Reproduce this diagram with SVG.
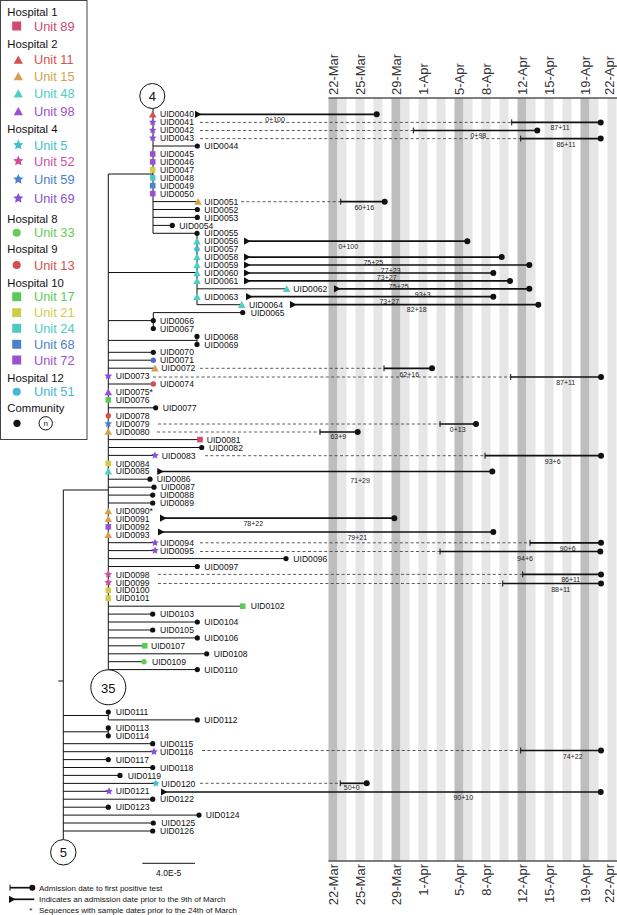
<svg xmlns="http://www.w3.org/2000/svg" width="617" height="915" viewBox="0 0 617 915">
<style>
text{font-family:"Liberation Sans",Arial,Helvetica,sans-serif}
.l{font-size:8.6px;fill:#111}
.n{font-size:7px;fill:#222;text-anchor:middle}
.h{font-size:11.3px;fill:#111}
.u{font-size:12.8px}
.d{font-size:13px;fill:#333}
.br{stroke:#111;stroke-width:1;fill:none}
.tl{stroke:#111;stroke-width:1.7;fill:none}
.tk{stroke:#111;stroke-width:1;fill:none}
.da{stroke:#333;stroke-width:0.8;stroke-dasharray:3 2.4;fill:none}
.cc{fill:#fff;stroke:#111;stroke-width:1}
.ct{font-size:13px;text-anchor:middle;fill:#111}
.sd{fill:#bebebe}
.sl{fill:#e6e6e6}
.ax{stroke:#555;stroke-width:1.5}
.ft{font-size:8px;fill:#111}
</style>
<defs>
<polygon id="tri" points="0,-3.6 3.8,3.2 -3.8,3.2"/>
<polygon id="star" points="0,-4 1.15,-1.57 3.8,-1.23 1.83,0.6 2.38,3.23 0,1.96 -2.38,3.23 -1.83,0.6 -3.8,-1.23 -1.15,-1.57"/>
<rect id="sq" x="-2.8" y="-2.8" width="5.6" height="5.6"/>
<circle id="ci" r="2.7"/>
<circle id="dot" r="2.6" fill="#111"/>
<circle id="ed" r="3" fill="#111"/>
<polygon id="arr" points="0,-3.6 6.5,0 0,3.6" fill="#111"/>
</defs>
<rect width="617" height="915" fill="#fff"/>

<g id="timeline-axis">
<rect class="sd" x="328.5" y="98" width="9" height="763"/>
<rect class="sd" x="391.5" y="98" width="9" height="763"/>
<rect class="sd" x="454.5" y="98" width="9" height="763"/>
<rect class="sd" x="517.5" y="98" width="9" height="763"/>
<rect class="sd" x="580.5" y="98" width="9" height="763"/>
<rect class="sl" x="337.5" y="98" width="9" height="763"/>
<rect class="sl" x="355.5" y="98" width="9" height="763"/>
<rect class="sl" x="373.5" y="98" width="9" height="763"/>
<rect class="sl" x="400.5" y="98" width="9" height="763"/>
<rect class="sl" x="418.5" y="98" width="9" height="763"/>
<rect class="sl" x="436.5" y="98" width="9" height="763"/>
<rect class="sl" x="463.5" y="98" width="9" height="763"/>
<rect class="sl" x="481.5" y="98" width="9" height="763"/>
<rect class="sl" x="499.5" y="98" width="9" height="763"/>
<rect class="sl" x="526.5" y="98" width="9" height="763"/>
<rect class="sl" x="544.5" y="98" width="9" height="763"/>
<rect class="sl" x="562.5" y="98" width="9" height="763"/>
<rect class="sl" x="589.5" y="98" width="9" height="763"/>
<rect class="sl" x="607.5" y="98" width="9" height="763"/>
<path class="ax" d="M328.5 98H617M328.5 861H617"/>
<text class="d" transform="translate(337.5,95) rotate(-90)">22-Mar</text>
<text class="d" transform="translate(364.5,95) rotate(-90)">25-Mar</text>
<text class="d" transform="translate(400.5,95) rotate(-90)">29-Mar</text>
<text class="d" transform="translate(427.5,95) rotate(-90)">1-Apr</text>
<text class="d" transform="translate(463.5,95) rotate(-90)">5-Apr</text>
<text class="d" transform="translate(490.5,95) rotate(-90)">8-Apr</text>
<text class="d" transform="translate(526.5,95) rotate(-90)">12-Apr</text>
<text class="d" transform="translate(553.5,95) rotate(-90)">15-Apr</text>
<text class="d" transform="translate(589.5,95) rotate(-90)">19-Apr</text>
<text class="d" transform="translate(614.3,95) rotate(-90)">22-Apr</text>
<g text-anchor="end">
<text class="d" transform="translate(337.5,864) rotate(-90)">22-Mar</text>
<text class="d" transform="translate(364.5,864) rotate(-90)">25-Mar</text>
<text class="d" transform="translate(400.5,864) rotate(-90)">29-Mar</text>
<text class="d" transform="translate(427.5,864) rotate(-90)">1-Apr</text>
<text class="d" transform="translate(463.5,864) rotate(-90)">5-Apr</text>
<text class="d" transform="translate(490.5,864) rotate(-90)">8-Apr</text>
<text class="d" transform="translate(526.5,864) rotate(-90)">12-Apr</text>
<text class="d" transform="translate(553.5,864) rotate(-90)">15-Apr</text>
<text class="d" transform="translate(589.5,864) rotate(-90)">19-Apr</text>
<text class="d" transform="translate(614.3,864) rotate(-90)">22-Apr</text>
</g>
</g>

<g id="legend">
<rect x="0.5" y="0.5" width="86.5" height="439" fill="#fff" stroke="#444"/>
<text class="h" x="7.3" y="15.7">Hospital 1</text>
<use href="#sq" transform="translate(16.7,26) scale(1.6)" fill="#cf4a6e"/><text class="u" x="34" y="30.5" fill="#cf4a6e">Unit 89</text>
<text class="h" x="7.3" y="47.7">Hospital 2</text>
<use href="#tri" transform="translate(18.3,59.8) scale(1.22)" fill="#d8504c"/><text class="u" x="34" y="63.8" fill="#d8504c">Unit 11</text>
<use href="#tri" transform="translate(18.3,76.3) scale(1.22)" fill="#d4a24c"/><text class="u" x="34" y="80.5" fill="#d4a24c">Unit 15</text>
<use href="#tri" transform="translate(18.3,93.6) scale(1.22)" fill="#4ccfc4"/><text class="u" x="34" y="97.8" fill="#4ccfc4">Unit 48</text>
<use href="#tri" transform="translate(18.3,111.3) scale(1.22)" fill="#9b50d2"/><text class="u" x="34" y="115.5" fill="#9b50d2">Unit 98</text>
<text class="h" x="7.3" y="133.3">Hospital 4</text>
<use href="#star" transform="translate(18.3,145) scale(1.35)" fill="#3fbfcf"/><text class="u" x="34" y="149.5" fill="#3fbfcf">Unit 5</text>
<use href="#star" transform="translate(18.3,161) scale(1.35)" fill="#d24ca0"/><text class="u" x="34" y="165.5" fill="#d24ca0">Unit 52</text>
<use href="#star" transform="translate(18.3,179.3) scale(1.35)" fill="#4a80cf"/><text class="u" x="34" y="183.8" fill="#4a80cf">Unit 59</text>
<use href="#star" transform="translate(18.3,198.3) scale(1.35)" fill="#8a50d6"/><text class="u" x="34" y="202.8" fill="#8a50d6">Unit 69</text>
<text class="h" x="7.3" y="222.7">Hospital 8</text>
<use href="#ci" transform="translate(16.7,232.7) scale(1.5)" fill="#66cc55"/><text class="u" x="34" y="237.2" fill="#66cc55">Unit 33</text>
<text class="h" x="7.3" y="253.3">Hospital 9</text>
<use href="#ci" transform="translate(16.7,265) scale(1.5)" fill="#d4504e"/><text class="u" x="34" y="269.5" fill="#d4504e">Unit 13</text>
<text class="h" x="7.3" y="286.7">Hospital 10</text>
<use href="#sq" transform="translate(16.7,296.7) scale(1.6)" fill="#5acb5a"/><text class="u" x="34" y="301.2" fill="#5acb5a">Unit 17</text>
<use href="#sq" transform="translate(16.7,312.7) scale(1.6)" fill="#cfcc4a"/><text class="u" x="34" y="317.2" fill="#cfcc4a">Unit 21</text>
<use href="#sq" transform="translate(16.7,328.3) scale(1.6)" fill="#4dcbc2"/><text class="u" x="34" y="332.8" fill="#4dcbc2">Unit 24</text>
<use href="#sq" transform="translate(16.7,344.3) scale(1.6)" fill="#4a82cf"/><text class="u" x="34" y="348.8" fill="#4a82cf">Unit 68</text>
<use href="#sq" transform="translate(16.7,360) scale(1.6)" fill="#9b50cf"/><text class="u" x="34" y="364.5" fill="#9b50cf">Unit 72</text>
<text class="h" x="7.3" y="381.7">Hospital 12</text>
<use href="#ci" transform="translate(16.7,391.7) scale(1.5)" fill="#45b8d8"/><text class="u" x="34" y="396.2" fill="#45b8d8">Unit 51</text>
<text class="h" x="7.3" y="411.7">Community</text>
<circle cx="17" cy="423.3" r="3.6" fill="#111"/>
<circle cx="45.7" cy="423.3" r="6.7" class="cc"/>
<text x="45.7" y="426" font-size="8" text-anchor="middle" fill="#111">n</text>
</g>

<g id="connectors" class="br">
<path d="M108.3 174H153M153 108.7V233.3M153 146H197.3M153 201.6H198M153 209.5H197.3M153 217.4H197.3M153 225.4H172.3M153 233.3H197M197 233.3V304.7M197 288.8H286.7M197 304.7H241.7M108.3 272.5H197"/>
<path d="M108.3 174V669.8M153.3 312.6H242.7M108.3 320.6H153.3M153.3 312.6V328.5M108.3 340.4H197M197 336.4V344.4M108.3 352.3H153.3M108.3 360.2H153.3M108.3 368.2H155M108.3 384H153.3M108.3 407.8H155.7M108.3 439.6H200M108.3 447.5H201.7M108.3 455.4H155M108.3 479.2H150M108.3 487.2H154M108.3 495.1H152.7M108.3 503H152.7M108.3 542.7H155M108.3 550.6H155M108.3 558.6H286M108.3 566.5H197.3M108.3 606.2H242.7M108.3 614.1H152.7M108.3 622H197.3M108.3 630H152.7M108.3 637.9H197.3M108.3 645.8H144.7M108.3 653.8H206.7M108.3 661.7H144M108.3 669.6H197.3"/>
<path d="M63.3 490H108.3M58.3 681H63.3M63.3 490V839.6M63.3 715.5H108.3M108.3 712V719.9M108.3 719.9H197.3M63.3 731.8H108.3M108.3 727.9V735.8M63.3 743.7H152.7M63.3 751.7H154M63.3 759.6H108.3M63.3 767.5H152.7M63.3 775.4H120M63.3 783.4H155.7M63.3 791.3H109M63.3 799.2H152.7M63.3 807.2H108.3M63.3 815.1H199M63.3 823H153.3M63.3 831H152.7"/>
</g>

<g id="clade-4"><circle class="cc" cx="152.3" cy="96" r="12.5"/><text class="ct" x="152.3" y="100.7">4</text></g>
<g id="clade-35"><circle class="cc" cx="108.3" cy="687.3" r="17.5"/><text class="ct" x="108.3" y="692.5" font-size="15">35</text></g>
<g id="clade-5"><circle class="cc" cx="63.3" cy="852.3" r="12.7"/><text class="ct" x="63.3" y="857">5</text></g>

<g id="UID0040"><use href="#tri" x="152.7" y="114.3" fill="#d8504c"/><text class="l" x="160" y="117.4">UID0040</text><path class="tl" d="M195 114.3H376.7"/><use href="#arr" x="195" y="114.3"/><use href="#ed" x="376.7" y="114.3"/><text class="n" x="275" y="121.8">0+100</text></g>
<g id="UID0041"><use href="#star" x="152.7" y="122.2" fill="#8a50d6"/><text class="l" x="160" y="125.3">UID0041</text><path class="da" d="M200 122.4H511.7"/><path class="tk" d="M511.7 119.4v6"/><path class="tl" d="M511.7 122.4H600.7"/><use href="#ed" x="600.7" y="122.4"/><text class="n" x="560" y="129.8">87+11</text></g>
<g id="UID0042"><use href="#star" x="152.7" y="130.2" fill="#8a50d6"/><text class="l" x="160" y="133.3">UID0042</text><path class="da" d="M200 130.5H413.3"/><path class="tk" d="M413.3 127.5v6"/><path class="tl" d="M413.3 130.5H537.3"/><use href="#ed" x="537.3" y="130.5"/><text class="n" x="478.3" y="137.5">0+98</text></g>
<g id="UID0043"><use href="#star" x="152.7" y="138.1" fill="#8a50d6"/><text class="l" x="160" y="141.2">UID0043</text><path class="da" d="M200 138.6H520.7"/><path class="tk" d="M520.7 135.6v6"/><path class="tl" d="M520.7 138.6H600.7"/><use href="#ed" x="600.7" y="138.6"/><text class="n" x="566" y="146.5">86+11</text></g>
<g id="UID0044"><use href="#dot" x="197.3" y="146"/><text class="l" x="204.3" y="149.1">UID0044</text></g>
<g id="UID0045"><use href="#sq" x="152.7" y="154" fill="#9b50cf"/><text class="l" x="160" y="157.1">UID0045</text></g>
<g id="UID0046"><use href="#sq" x="152.7" y="161.9" fill="#9b50cf"/><text class="l" x="160" y="165">UID0046</text></g>
<g id="UID0047"><use href="#sq" x="152.7" y="169.8" fill="#cfcc4a"/><text class="l" x="160" y="172.9">UID0047</text></g>
<g id="UID0048"><use href="#sq" x="152.7" y="177.8" fill="#4dcbc2"/><text class="l" x="160" y="180.9">UID0048</text></g>
<g id="UID0049"><use href="#sq" x="152.7" y="185.7" fill="#4a82cf"/><text class="l" x="160" y="188.8">UID0049</text></g>
<g id="UID0050"><use href="#sq" x="152.7" y="193.6" fill="#9b50cf"/><text class="l" x="160" y="196.7">UID0050</text></g>
<g id="UID0051"><use href="#tri" x="198" y="201.6" fill="#d4a24c"/><text class="l" x="204.3" y="204.7">UID0051</text><path class="da" d="M241 201.7H340.7"/><path class="tk" d="M340.7 198.7v6"/><path class="tl" d="M340.7 201.7H384.7"/><use href="#ed" x="384.7" y="201.7"/><text class="n" x="364.3" y="209.8">60+16</text></g>
<g id="UID0052"><use href="#dot" x="197.3" y="209.5"/><text class="l" x="204.3" y="212.6">UID0052</text></g>
<g id="UID0053"><use href="#dot" x="197.3" y="217.4"/><text class="l" x="204.3" y="220.5">UID0053</text></g>
<g id="UID0054"><use href="#dot" x="172.3" y="225.4"/><text class="l" x="179.3" y="228.5">UID0054</text></g>
<g id="UID0055"><use href="#dot" x="197" y="233.3"/><text class="l" x="204.3" y="236.4">UID0055</text></g>
<g id="UID0056"><use href="#tri" x="197" y="241.2" fill="#4ccfc4"/><text class="l" x="204.3" y="244.3">UID0056</text><path class="tl" d="M244 241.2H467.3"/><use href="#arr" x="244" y="241.2"/><use href="#ed" x="467.3" y="241.2"/><text class="n" x="348.3" y="248.5">0+100</text></g>
<g id="UID0057"><use href="#ci" x="197" y="249.2" fill="#45b8d8"/><text class="l" x="204.3" y="252.3">UID0057</text></g>
<g id="UID0058"><use href="#tri" x="197" y="257.1" fill="#4ccfc4"/><text class="l" x="204.3" y="260.2">UID0058</text><path class="tl" d="M244 257.1H501.7"/><use href="#arr" x="244" y="257.1"/><use href="#ed" x="501.7" y="257.1"/><text class="n" x="373.3" y="264.8">75+25</text></g>
<g id="UID0059"><use href="#tri" x="197" y="265" fill="#4ccfc4"/><text class="l" x="204.3" y="268.1">UID0059</text><path class="tl" d="M244 265H529.3"/><use href="#arr" x="244" y="265"/><use href="#ed" x="529.3" y="265"/><text class="n" x="390.7" y="272.5">77+23</text></g>
<g id="UID0060"><use href="#tri" x="197" y="273" fill="#4ccfc4"/><text class="l" x="204.3" y="276.1">UID0060</text><path class="tl" d="M244 273H493.3"/><use href="#arr" x="244" y="273"/><use href="#ed" x="493.3" y="273"/><text class="n" x="386.7" y="279.8">73+27</text></g>
<g id="UID0061"><use href="#tri" x="197" y="280.9" fill="#4ccfc4"/><text class="l" x="204.3" y="284">UID0061</text><path class="tl" d="M244 280.9H510"/><use href="#arr" x="244" y="280.9"/><use href="#ed" x="510" y="280.9"/><text class="n" x="398.7" y="288.5">75+25</text></g>
<g id="UID0062"><use href="#tri" x="286.7" y="288.8" fill="#4ccfc4"/><text class="l" x="293.3" y="291.9">UID0062</text><path class="tl" d="M334 288.8H529.3"/><use href="#arr" x="334" y="288.8"/><use href="#ed" x="529.3" y="288.8"/><text class="n" x="422.7" y="296.5">93+3</text></g>
<g id="UID0063"><use href="#tri" x="197" y="296.7" fill="#4ccfc4"/><text class="l" x="204.3" y="299.8">UID0063</text><path class="tl" d="M246 296.7H493.3"/><use href="#arr" x="246" y="296.7"/><use href="#ed" x="493.3" y="296.7"/><text class="n" x="389.3" y="304.2">73+27</text></g>
<g id="UID0064"><use href="#tri" x="241.7" y="304.7" fill="#4ccfc4"/><text class="l" x="249" y="307.8">UID0064</text><path class="tl" d="M290 304.7H538.3"/><use href="#arr" x="290" y="304.7"/><use href="#ed" x="538.3" y="304.7"/><text class="n" x="416.7" y="311.8">82+18</text></g>
<g id="UID0065"><use href="#dot" x="242.7" y="312.6"/><text class="l" x="250.7" y="315.7">UID0065</text></g>
<g id="UID0066"><use href="#dot" x="153.3" y="320.6"/><text class="l" x="160" y="323.7">UID0066</text></g>
<g id="UID0067"><use href="#dot" x="153.3" y="328.5"/><text class="l" x="160" y="331.6">UID0067</text></g>
<g id="UID0068"><use href="#dot" x="197" y="336.4"/><text class="l" x="204.3" y="339.5">UID0068</text></g>
<g id="UID0069"><use href="#dot" x="197" y="344.4"/><text class="l" x="204.3" y="347.5">UID0069</text></g>
<g id="UID0070"><use href="#dot" x="153.3" y="352.3"/><text class="l" x="160" y="355.4">UID0070</text></g>
<g id="UID0071"><use href="#ci" x="153.3" y="360.2" fill="#4a6bd0"/><text class="l" x="160" y="363.3">UID0071</text></g>
<g id="UID0072"><use href="#tri" x="155" y="368.2" fill="#d4a24c"/><text class="l" x="161.3" y="371.3">UID0072</text><path class="da" d="M200 368.3H384"/><path class="tk" d="M384 365.3v6"/><path class="tl" d="M384 368.3H432"/><use href="#ed" x="432" y="368.3"/><text class="n" x="409.3" y="376.8">62+16</text></g>
<g id="UID0073"><use href="#star" x="108.3" y="376.1" fill="#8a50d6"/><text class="l" x="115.7" y="379.2">UID0073</text><path class="da" d="M153 377H510.7"/><path class="tk" d="M510.7 374v6"/><path class="tl" d="M510.7 377H601"/><use href="#ed" x="601" y="377"/><text class="n" x="565.7" y="385.2">87+11</text></g>
<g id="UID0074"><use href="#ci" x="153.3" y="384" fill="#d4504e"/><text class="l" x="160" y="387.1">UID0074</text></g>
<g id="UID0075"><use href="#tri" x="108.3" y="392" fill="#9b50d2"/><text class="l" x="115.7" y="395.1">UID0075*</text></g>
<g id="UID0076"><use href="#sq" x="108.3" y="399.9" fill="#5acb5a"/><text class="l" x="115.7" y="403">UID0076</text></g>
<g id="UID0077"><use href="#dot" x="155.7" y="407.8"/><text class="l" x="162.7" y="410.9">UID0077</text></g>
<g id="UID0078"><use href="#ci" x="108.3" y="415.8" fill="#d4504e"/><text class="l" x="115.7" y="418.9">UID0078</text></g>
<g id="UID0079"><use href="#star" x="108.3" y="423.7" fill="#4a80cf"/><text class="l" x="115.7" y="426.8">UID0079</text><path class="da" d="M158 424H440"/><path class="tk" d="M440 421v6"/><path class="tl" d="M440 424H476"/><use href="#ed" x="476" y="424"/><text class="n" x="457.7" y="431.8">0+13</text></g>
<g id="UID0080"><use href="#tri" x="108.3" y="431.6" fill="#d4a24c"/><text class="l" x="115.7" y="434.7">UID0080</text><path class="da" d="M157 432H320"/><path class="tk" d="M320 429v6"/><path class="tl" d="M320 432H357.7"/><use href="#ed" x="357.7" y="432"/><text class="n" x="338.3" y="439.2">63+9</text></g>
<g id="UID0081"><use href="#sq" x="200" y="439.6" fill="#cf4a6e"/><text class="l" x="206.7" y="442.7">UID0081</text></g>
<g id="UID0082"><use href="#dot" x="201.7" y="447.5"/><text class="l" x="209" y="450.6">UID0082</text></g>
<g id="UID0083"><use href="#star" x="155" y="455.4" fill="#8a50d6"/><text class="l" x="161.7" y="458.5">UID0083</text><path class="da" d="M205 455.7H485"/><path class="tk" d="M485 452.7v6"/><path class="tl" d="M485 455.7H601"/><use href="#ed" x="601" y="455.7"/><text class="n" x="552.7" y="464.2">93+6</text></g>
<g id="UID0084"><use href="#sq" x="108.3" y="463.4" fill="#cfcc4a"/><text class="l" x="115.7" y="466.5">UID0084</text></g>
<g id="UID0085"><use href="#tri" x="108.3" y="471.3" fill="#4ccfc4"/><text class="l" x="115.7" y="474.4">UID0085</text><path class="tl" d="M157.3 471.5H492.3"/><use href="#arr" x="157.3" y="471.5"/><use href="#ed" x="492.3" y="471.5"/><text class="n" x="360" y="482.5">71+29</text></g>
<g id="UID0086"><use href="#dot" x="150" y="479.2"/><text class="l" x="156.7" y="482.3">UID0086</text></g>
<g id="UID0087"><use href="#dot" x="154" y="487.2"/><text class="l" x="161" y="490.3">UID0087</text></g>
<g id="UID0088"><use href="#dot" x="152.7" y="495.1"/><text class="l" x="160" y="498.2">UID0088</text></g>
<g id="UID0089"><use href="#dot" x="152.7" y="503"/><text class="l" x="160" y="506.1">UID0089</text></g>
<g id="UID0090"><use href="#tri" x="108.3" y="511" fill="#d4a24c"/><text class="l" x="115.7" y="514.1">UID0090*</text></g>
<g id="UID0091"><use href="#tri" x="108.3" y="518.9" fill="#d4a24c"/><text class="l" x="115.7" y="522">UID0091</text><path class="tl" d="M160 518.2H394.3"/><use href="#arr" x="160" y="518.2"/><use href="#ed" x="394.3" y="518.2"/><text class="n" x="253.3" y="525.8">78+22</text></g>
<g id="UID0092"><use href="#sq" x="108.3" y="526.8" fill="#9b50cf"/><text class="l" x="115.7" y="529.9">UID0092</text></g>
<g id="UID0093"><use href="#tri" x="108.3" y="534.8" fill="#d4a24c"/><text class="l" x="115.7" y="537.9">UID0093</text><path class="tl" d="M158 532H493.3"/><use href="#arr" x="158" y="532"/><use href="#ed" x="493.3" y="532"/><text class="n" x="357.3" y="539.8">79+21</text></g>
<g id="UID0094"><use href="#star" x="155" y="542.7" fill="#8a50d6"/><text class="l" x="160" y="545.8">UID0094</text><path class="da" d="M200 542.8H530"/><path class="tk" d="M530 539.8v6"/><path class="tl" d="M530 542.8H601"/><use href="#ed" x="601" y="542.8"/><text class="n" x="567.7" y="550.8">90+6</text></g>
<g id="UID0095"><use href="#star" x="155" y="550.6" fill="#8a50d6"/><text class="l" x="160" y="553.7">UID0095</text><path class="da" d="M200 551.5H440"/><path class="tk" d="M440 548.5v6"/><path class="tl" d="M440 551.5H600.3"/><use href="#ed" x="600.3" y="551.5"/><text class="n" x="525" y="560.8">94+6</text></g>
<g id="UID0096"><use href="#dot" x="286" y="558.6"/><text class="l" x="293.3" y="561.7">UID0096</text></g>
<g id="UID0097"><use href="#dot" x="197.3" y="566.5"/><text class="l" x="204.3" y="569.6">UID0097</text></g>
<g id="UID0098"><use href="#star" x="108.3" y="574.4" fill="#d24ca0"/><text class="l" x="115.7" y="577.5">UID0098</text><path class="da" d="M158 574.4H522.7"/><path class="tk" d="M522.7 571.4v6"/><path class="tl" d="M522.7 574.4H601"/><use href="#ed" x="601" y="574.4"/><text class="n" x="570.7" y="581.5">86+11</text></g>
<g id="UID0099"><use href="#star" x="108.3" y="582.4" fill="#d24ca0"/><text class="l" x="115.7" y="585.5">UID0099</text><path class="da" d="M158 583.5H502.7"/><path class="tk" d="M502.7 580.5v6"/><path class="tl" d="M502.7 583.5H601"/><use href="#ed" x="601" y="583.5"/><text class="n" x="560.7" y="592.2">88+11</text></g>
<g id="UID0100"><use href="#sq" x="108.3" y="590.3" fill="#cfcc4a"/><text class="l" x="115.7" y="593.4">UID0100</text></g>
<g id="UID0101"><use href="#sq" x="108.3" y="598.2" fill="#cfcc4a"/><text class="l" x="115.7" y="601.3">UID0101</text></g>
<g id="UID0102"><use href="#sq" x="242.7" y="606.2" fill="#5acb5a"/><text class="l" x="250.7" y="609.3">UID0102</text></g>
<g id="UID0103"><use href="#dot" x="152.7" y="614.1"/><text class="l" x="160" y="617.2">UID0103</text></g>
<g id="UID0104"><use href="#dot" x="197.3" y="622"/><text class="l" x="204.3" y="625.1">UID0104</text></g>
<g id="UID0105"><use href="#dot" x="152.7" y="630"/><text class="l" x="160" y="633.1">UID0105</text></g>
<g id="UID0106"><use href="#dot" x="197.3" y="637.9"/><text class="l" x="204.3" y="641">UID0106</text></g>
<g id="UID0107"><use href="#sq" x="144.7" y="645.8" fill="#5acb5a"/><text class="l" x="151" y="648.9">UID0107</text></g>
<g id="UID0108"><use href="#dot" x="206.7" y="653.8"/><text class="l" x="213.7" y="656.9">UID0108</text></g>
<g id="UID0109"><use href="#ci" x="144" y="661.7" fill="#66cc55"/><text class="l" x="152" y="664.8">UID0109</text></g>
<g id="UID0110"><use href="#dot" x="197.3" y="669.6"/><text class="l" x="204.3" y="672.7">UID0110</text></g>
<g id="UID0111"><use href="#dot" x="108.3" y="712"/><text class="l" x="115.7" y="715.1">UID0111</text></g>
<g id="UID0112"><use href="#dot" x="197.3" y="719.9"/><text class="l" x="204.3" y="723">UID0112</text></g>
<g id="UID0113"><use href="#dot" x="108.3" y="727.9"/><text class="l" x="115.7" y="731">UID0113</text></g>
<g id="UID0114"><use href="#dot" x="108.3" y="735.8"/><text class="l" x="115.7" y="738.9">UID0114</text></g>
<g id="UID0115"><use href="#dot" x="152.7" y="743.7"/><text class="l" x="160" y="746.8">UID0115</text></g>
<g id="UID0116"><use href="#star" x="154" y="751.7" fill="#8a50d6"/><text class="l" x="160" y="754.8">UID0116</text><path class="da" d="M202 750.5H520.7"/><path class="tk" d="M520.7 747.5v6"/><path class="tl" d="M520.7 750.5H601"/><use href="#ed" x="601" y="750.5"/><text class="n" x="572.7" y="758.5">74+22</text></g>
<g id="UID0117"><use href="#dot" x="108.3" y="759.6"/><text class="l" x="115.7" y="762.7">UID0117</text></g>
<g id="UID0118"><use href="#dot" x="152.7" y="767.5"/><text class="l" x="160" y="770.6">UID0118</text></g>
<g id="UID0119"><use href="#dot" x="120" y="775.4"/><text class="l" x="127.7" y="778.5">UID0119</text></g>
<g id="UID0120"><use href="#star" x="155.7" y="783.4" fill="#3fbfcf"/><text class="l" x="161.3" y="786.5">UID0120</text><path class="da" d="M200 783.3H340.3"/><path class="tk" d="M340.3 780.3v6"/><path class="tl" d="M340.3 783.3H366.7"/><use href="#ed" x="366.7" y="783.3"/><text class="n" x="351.7" y="790.2">50+0</text></g>
<g id="UID0121"><use href="#star" x="109" y="791.3" fill="#8a50d6"/><text class="l" x="115.7" y="794.4">UID0121</text><path class="tl" d="M161 792H600.7"/><use href="#arr" x="161" y="792"/><use href="#ed" x="600.7" y="792"/><text class="n" x="463.3" y="799.8">90+10</text></g>
<g id="UID0122"><use href="#dot" x="152.7" y="799.2"/><text class="l" x="160" y="802.3">UID0122</text></g>
<g id="UID0123"><use href="#dot" x="108.3" y="807.2"/><text class="l" x="115.7" y="810.3">UID0123</text></g>
<g id="UID0124"><use href="#dot" x="199" y="815.1"/><text class="l" x="205.7" y="818.2">UID0124</text></g>
<g id="UID0125"><use href="#dot" x="153.3" y="823"/><text class="l" x="161.3" y="826.1">UID0125</text></g>
<g id="UID0126"><use href="#dot" x="152.7" y="831"/><text class="l" x="160" y="834.1">UID0126</text></g>

<g id="scale-bar"><path class="br" d="M142.3 863.3H195"/><text class="l" x="168.7" y="876" text-anchor="middle">4.0E-5</text></g>

<g id="key">
<path class="tk" d="M10 884.7v6"/><path class="tl" d="M10 887.7H32.3"/><use href="#ed" x="32.3" y="887.7"/>
<text class="ft" x="39" y="890.5">Admission date to first positive test</text>
<path class="tl" d="M9 899.3H34.3"/><use href="#arr" x="9" y="899.3"/>
<text class="ft" x="39" y="902.1">Indicates an admission date prior to the 9th of March</text>
<text class="ft" x="29.3" y="913" font-size="6">*</text>
<text class="ft" x="39" y="913">Sequences with sample dates prior to the 24th of March</text>
</g>
</svg>
